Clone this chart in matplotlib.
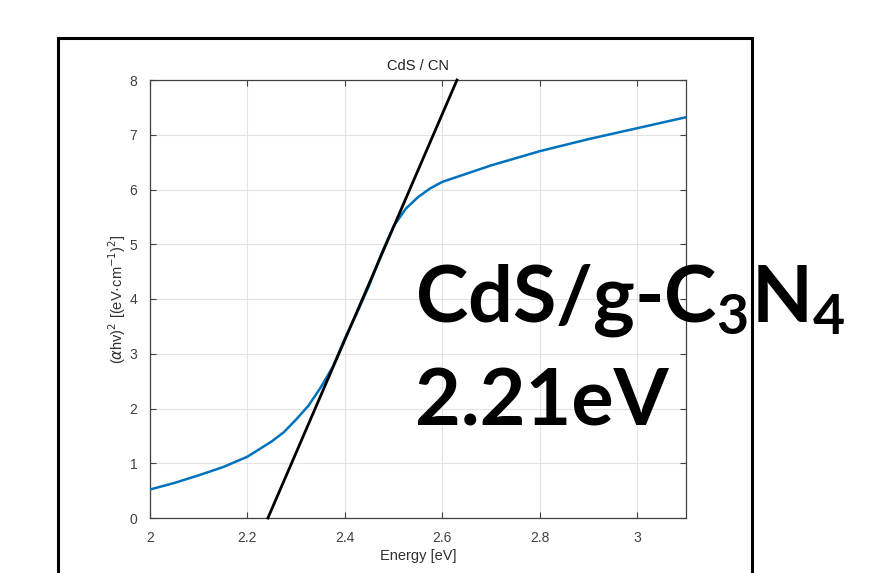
import matplotlib
matplotlib.use("Agg")
import matplotlib.pyplot as plt
from matplotlib.patches import Rectangle

# absorption curve
energy = [2.0, 2.05, 2.1, 2.15, 2.2, 2.25, 2.275, 2.3, 2.325, 2.35, 2.375, 2.4, 2.425,
          2.45, 2.475, 2.5, 2.525, 2.55, 2.575, 2.6, 2.65, 2.7, 2.8, 2.9, 3.0, 3.1]
ahv2 = [0.52, 0.64, 0.78, 0.93, 1.12, 1.40, 1.57, 1.80, 2.05, 2.38, 2.76, 3.28, 3.75,
        4.25, 4.83, 5.33, 5.65, 5.86, 6.02, 6.14, 6.29, 6.44, 6.70, 6.92, 7.12, 7.32]

# tangent line (Tauc fit)
fit_x = [2.242, 2.630]
fit_y = [0, 8]

xticks = [2, 2.2, 2.4, 2.6, 2.8, 3]
yticks = [0, 1, 2, 3, 4, 5, 6, 7, 8]

plt.rcParams['font.family'] = ['Liberation Sans', 'DejaVu Sans']
plt.rcParams['mathtext.fontset'] = 'custom'
plt.rcParams['mathtext.bf'] = 'Lato:bold'

fig = plt.figure(figsize=(8.95, 5.73), dpi=100)
ax = fig.add_axes([150/895, 1-518/573, 536/895, 438/573])

ax.plot(energy, ahv2, color='#0072BD', lw=1.8, zorder=3)
ax.plot(fit_x, fit_y, color='black', lw=2, zorder=4, clip_on=False)

ax.set_xlim(2, 3.1)
ax.set_ylim(0, 8)
ax.set_xticks(xticks)
ax.set_xticklabels(['2', '2.2', '2.4', '2.6', '2.8', '3'])
ax.set_yticks(yticks)
ax.grid(True, color='#e3e3e3', lw=0.8)
ax.set_axisbelow(True)
ax.tick_params(direction='in', length=4, width=0.8, colors='#404040', labelsize=10,
               top=True, right=True, labeltop=False, labelright=False, pad=9)
for s in ax.spines.values():
    s.set_color('#404040')
    s.set_linewidth(0.9)

ax.set_title('CdS / CN', fontsize=10.5, color='#202020', pad=7)
ax.set_xlabel('Energy [eV]', fontsize=10.5, color='#303030', labelpad=3)
ax.set_ylabel(r'($\alpha$hv)$^2$ [(eV·cm$^{-1}$)$^2$]', fontsize=10.5, color='#303030', labelpad=1)

# outer frame
fig.patches.append(Rectangle((58/895, -0.05), (752-58)/895, 1-38/573+0.05,
                             transform=fig.transFigure, fill=False, ec='black', lw=2.2))

fig.text(415/895, 1-322/573, r'CdS/g-C$_\mathbf{3}$N$_\mathbf{4}$', fontsize=57,
         fontweight='bold', family='Lato', color='black', zorder=10)
fig.text(415/895, 1-425/573, '2.21eV', fontsize=57, fontweight='bold',
         family='Lato', color='black', zorder=10)

fig.savefig('out.png', dpi=100)
